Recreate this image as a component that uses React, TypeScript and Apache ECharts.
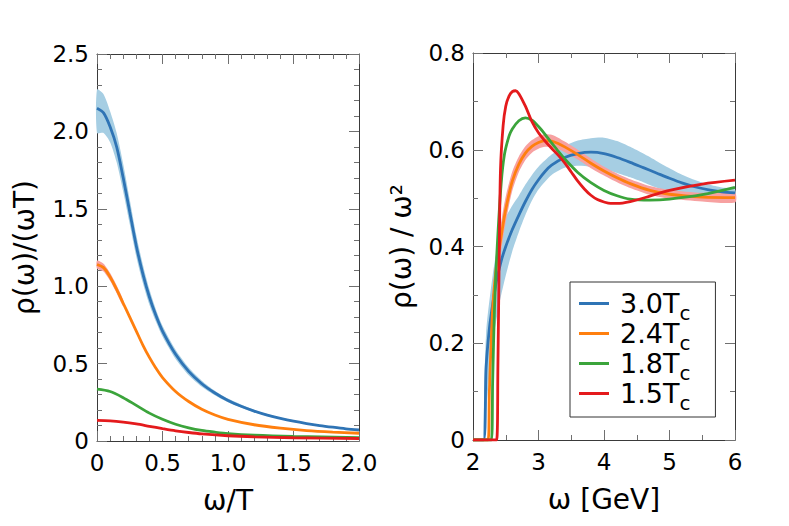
import React, { useEffect, useRef } from "react";
import * as echarts from "echarts";

const FONT = "DejaVu Sans";

const SERIES_NAMES = ["3.0Tc", "2.4Tc", "1.8Tc", "1.5Tc"];
const LEGEND_LABELS = ["3.0T", "2.4T", "1.8T", "1.5T"];
const LINE_COLORS = ["#2f74b5", "#ff7f0e", "#3ba43b", "#e41a1c"];
const BAND_BLUE = "#a6cee3";
const BAND_PINK = "#f7a1a1";

// ---------- left panel: rho(w)/(wT) vs w/T ----------
const left30: [number, number][] = [
  [0, 2.15], [0.05, 2.12], [0.1, 2.03], [0.15, 1.9], [0.2, 1.7], [0.25, 1.48], [0.3, 1.26],
  [0.35, 1.08], [0.4, 0.93], [0.45, 0.81], [0.5, 0.71], [0.6, 0.56], [0.7, 0.45], [0.8, 0.37],
  [0.9, 0.31], [1.0, 0.262], [1.1, 0.224], [1.2, 0.193], [1.3, 0.167], [1.4, 0.146], [1.5, 0.128],
  [1.6, 0.113], [1.7, 0.1], [1.8, 0.089], [1.9, 0.079], [2.0, 0.071],
];
const left24: [number, number][] = [
  [0, 1.14], [0.05, 1.12], [0.1, 1.06], [0.15, 0.98], [0.2, 0.89], [0.25, 0.8], [0.3, 0.71],
  [0.35, 0.62], [0.4, 0.54], [0.45, 0.47], [0.5, 0.41], [0.6, 0.32], [0.7, 0.255], [0.8, 0.205],
  [0.9, 0.168], [1.0, 0.14], [1.2, 0.105], [1.4, 0.083], [1.6, 0.067], [1.8, 0.057], [2.0, 0.05],
];
const left18: [number, number][] = [
  [0, 0.335], [0.1, 0.32], [0.2, 0.28], [0.3, 0.23], [0.4, 0.18], [0.5, 0.14], [0.6, 0.108],
  [0.7, 0.085], [0.8, 0.068], [0.9, 0.057], [1.0, 0.048], [1.2, 0.038], [1.5, 0.03], [2.0, 0.022],
];
const left15: [number, number][] = [
  [0, 0.133], [0.1, 0.13], [0.2, 0.122], [0.3, 0.11], [0.4, 0.095], [0.5, 0.08], [0.6, 0.066],
  [0.7, 0.055], [0.8, 0.046], [1.0, 0.034], [1.2, 0.027], [1.5, 0.021], [2.0, 0.016],
];
const leftBandX30 = [0, 0.05, 0.1, 0.15, 0.2, 0.25, 0.3, 0.35, 0.4, 0.45, 0.5, 0.6, 0.7, 0.8, 0.9, 1.0, 1.2, 1.4, 1.6, 1.8, 2.0];
const leftBandLo30 = [1.99, 1.99, 1.93, 1.8, 1.61, 1.4, 1.19, 1.02, 0.88, 0.77, 0.675, 0.53, 0.425, 0.35, 0.295, 0.25, 0.185, 0.14, 0.109, 0.086, 0.069];
const leftBandHi30 = [2.27, 2.24, 2.13, 1.99, 1.79, 1.56, 1.33, 1.14, 0.98, 0.85, 0.745, 0.59, 0.475, 0.39, 0.325, 0.274, 0.201, 0.152, 0.117, 0.092, 0.073];
const leftBandX24 = [0, 0.05, 0.1, 0.15, 0.2];
const leftBandLo24 = [1.115, 1.095, 1.035, 0.955, 0.87];
const leftBandHi24 = [1.165, 1.145, 1.085, 1.005, 0.91];

// ---------- right panel: rho(w)/w^2 vs w [GeV] ----------
const right30: [number, number][] = [
  [2.0, 0], [2.16, 0], [2.2, 0.15], [2.25, 0.23], [2.3, 0.28], [2.36, 0.33], [2.43, 0.37], [2.5, 0.4],
  [2.6, 0.435], [2.7, 0.465], [2.8, 0.493], [2.9, 0.518], [3.0, 0.538], [3.1, 0.555], [3.2, 0.568],
  [3.4, 0.584], [3.6, 0.592], [3.8, 0.595], [4.0, 0.592], [4.2, 0.584], [4.4, 0.574], [4.6, 0.563],
  [4.8, 0.552], [5.0, 0.541], [5.2, 0.531], [5.4, 0.523], [5.6, 0.517], [5.8, 0.513], [6.0, 0.511],
];
const right24: [number, number][] = [
  [2.0, 0], [2.23, 0], [2.25, 0.1], [2.3, 0.27], [2.35, 0.35], [2.4, 0.395], [2.47, 0.455], [2.52, 0.49],
  [2.6, 0.535], [2.7, 0.57], [2.8, 0.593], [2.9, 0.607], [3.0, 0.615], [3.1, 0.619], [3.2, 0.618],
  [3.3, 0.613], [3.4, 0.606], [3.6, 0.59], [3.8, 0.572], [4.0, 0.556], [4.2, 0.542], [4.4, 0.53],
  [4.7, 0.516], [5.0, 0.508], [5.5, 0.502], [6.0, 0.501],
];
const right18: [number, number][] = [
  [2.0, 0], [2.28, 0], [2.3, 0.12], [2.33, 0.28], [2.37, 0.4], [2.43, 0.53], [2.48, 0.59], [2.55, 0.628],
  [2.6, 0.643], [2.7, 0.66], [2.8, 0.666], [2.9, 0.661], [3.0, 0.648], [3.1, 0.632], [3.2, 0.614],
  [3.3, 0.597], [3.4, 0.581], [3.6, 0.553], [3.8, 0.532], [4.0, 0.516], [4.2, 0.505], [4.4, 0.498],
  [4.7, 0.496], [5.0, 0.498], [5.5, 0.507], [6.0, 0.522],
];
const right15: [number, number][] = [
  [2.0, 0], [2.36, 0], [2.38, 0.15], [2.4, 0.38], [2.42, 0.56], [2.46, 0.65], [2.5, 0.69], [2.55, 0.711],
  [2.6, 0.72], [2.65, 0.722], [2.7, 0.716], [2.8, 0.69], [2.9, 0.658], [3.0, 0.635], [3.1, 0.618],
  [3.2, 0.603], [3.3, 0.589], [3.4, 0.573], [3.5, 0.554], [3.6, 0.535], [3.7, 0.519], [3.8, 0.506],
  [3.9, 0.497], [4.0, 0.492], [4.1, 0.489], [4.2, 0.489], [4.4, 0.493], [4.7, 0.504], [5.0, 0.516],
  [5.5, 0.529], [6.0, 0.537],
];
const rightBandX30 = [2.16, 2.2, 2.3, 2.4, 2.5, 2.6, 2.7, 2.8, 2.9, 3.0, 3.2, 3.4, 3.6, 3.8, 4.0, 4.2, 4.4, 4.6, 4.8, 5.0, 5.2, 5.4, 5.6, 5.8, 6.0];
const rightBandLo30 = [0, 0.06, 0.2, 0.28, 0.34, 0.39, 0.43, 0.465, 0.495, 0.518, 0.548, 0.563, 0.567, 0.565, 0.56, 0.552, 0.543, 0.533, 0.522, 0.513, 0.507, 0.503, 0.502, 0.502, 0.503];
const rightBandHi30 = [0.02, 0.22, 0.34, 0.42, 0.46, 0.485, 0.505, 0.528, 0.548, 0.565, 0.59, 0.608, 0.619, 0.624, 0.625, 0.618, 0.606, 0.592, 0.577, 0.562, 0.548, 0.537, 0.528, 0.522, 0.518];
const rightBandX24 = [2.23, 2.25, 2.3, 2.35, 2.4, 2.47, 2.52, 2.6, 2.7, 2.8, 2.9, 3.0, 3.1, 3.2, 3.3, 3.4, 3.6, 3.8, 4.0, 4.2, 4.4, 4.7, 5.0, 5.5, 6.0];
const rightBandLo24 = [0, 0.08, 0.24, 0.32, 0.365, 0.427, 0.465, 0.515, 0.554, 0.579, 0.594, 0.602, 0.606, 0.605, 0.601, 0.595, 0.58, 0.562, 0.547, 0.533, 0.521, 0.507, 0.499, 0.493, 0.491];
const rightBandHi24 = [0, 0.12, 0.3, 0.38, 0.425, 0.483, 0.515, 0.555, 0.586, 0.607, 0.62, 0.628, 0.632, 0.631, 0.625, 0.617, 0.6, 0.582, 0.565, 0.551, 0.539, 0.525, 0.517, 0.511, 0.511];

const FRAME = "#3a3a3a";
const TICK = "#707070";

const fmtOne = (v: number) => (v === 0 ? "0" : v.toFixed(1));
const fmtInt = (v: number) => String(Math.round(v));

function axisBase(grid: number, min: number, max: number, interval: number, minorSplit: number) {
  return {
    type: "value",
    gridIndex: grid,
    min,
    max,
    interval,
    splitLine: { show: false },
    minorSplitLine: { show: false },
    axisLine: { show: true, onZero: false, lineStyle: { color: FRAME, width: 1 } },
    axisTick: { show: true, inside: true, length: 10, lineStyle: { color: TICK, width: 1 } },
    minorTick: { show: true, splitNumber: minorSplit, length: 5, lineStyle: { color: TICK, width: 1 } },
  };
}

const labelStyle = (fmt: (v: number) => string, margin: number) => ({
  show: true,
  margin,
  fontSize: 23,
  fontFamily: FONT,
  color: "#000",
  formatter: fmt,
});
const nameStyle = { fontSize: 28, fontFamily: FONT, color: "#000" };

function bandSeries(xi: number, yi: number, xs: number[], lo: number[], hi: number[], color: string) {
  return {
    type: "custom",
    xAxisIndex: xi,
    yAxisIndex: yi,
    silent: true,
    z: 1,
    data: xs.map((x, i) => [x, lo[i], hi[i]]),
    encode: { x: 0, y: [1, 2] },
    renderItem: (params: any, api: any) => {
      if (params.dataIndex !== 0) return null;
      const top = xs.map((x, i) => api.coord([x, hi[i]]));
      const bottom = xs.map((x, i) => api.coord([x, lo[i]])).reverse();
      return {
        type: "polygon",
        shape: { points: top.concat(bottom), smooth: 0.25 },
        style: { fill: color, stroke: "none" },
      };
    },
  };
}

function lineSeries(idx: number, data: [number, number][], xi: number, yi: number) {
  return {
    type: "line",
    name: SERIES_NAMES[idx],
    data,
    xAxisIndex: xi,
    yAxisIndex: yi,
    showSymbol: false,
    symbol: "none",
    smooth: 0.3,
    silent: true,
    z: 3 + idx,
    lineStyle: { width: 2.8, color: LINE_COLORS[idx] },
    itemStyle: { color: LINE_COLORS[idx] },
  };
}

const option: any = {
  animation: false,
  backgroundColor: "#fff",
  grid: [
    { left: 97, top: 54, width: 262, height: 387, containLabel: false },
    { left: 473, top: 53, width: 262, height: 387, containLabel: false },
  ],
  xAxis: [
    {
      ...axisBase(0, 0, 2, 0.5, 5),
      position: "bottom",
      axisLabel: labelStyle(fmtOne, 10),
      name: "ω/T",
      nameLocation: "middle",
      nameGap: 45,
      nameTextStyle: nameStyle,
    },
    { ...axisBase(0, 0, 2, 0.5, 5), position: "top", axisLabel: { show: false } },
    {
      ...axisBase(1, 2, 6, 1, 2),
      position: "bottom",
      axisLabel: labelStyle(fmtInt, 10),
      name: "ω [GeV]",
      nameLocation: "middle",
      nameGap: 45,
      nameTextStyle: nameStyle,
    },
    { ...axisBase(1, 2, 6, 1, 2), position: "top", axisLabel: { show: false } },
  ],
  yAxis: [
    {
      ...axisBase(0, 0, 2.5, 0.5, 5),
      position: "left",
      axisLabel: labelStyle(fmtOne, 8),
      name: "ρ(ω)/(ωT)",
      nameLocation: "middle",
      nameGap: 59,
      nameTextStyle: nameStyle,
    },
    { ...axisBase(0, 0, 2.5, 0.5, 5), position: "right", axisLabel: { show: false } },
    {
      ...axisBase(1, 0, 0.8, 0.2, 2),
      position: "left",
      axisLabel: labelStyle(fmtOne, 8),
      name: "ρ(ω) / ω²",
      nameLocation: "middle",
      nameGap: 58,
      nameTextStyle: nameStyle,
    },
    { ...axisBase(1, 0, 0.8, 0.2, 2), position: "right", axisLabel: { show: false } },
  ],
  legend: {
    data: SERIES_NAMES,
    orient: "vertical",
    left: 570,
    top: 282,
    itemWidth: 30,
    itemHeight: 3,
    itemGap: -9,
    icon: "rect",
    padding: [2, 25, 4, 9],
    borderColor: "#333",
    borderWidth: 1,
    borderRadius: 0,
    backgroundColor: "#fff",
    selectedMode: false,
    formatter: (name: string) => `{m|${LEGEND_LABELS[SERIES_NAMES.indexOf(name)]}}{s|c}`,
    textStyle: {
      rich: {
        m: { fontSize: 27, fontFamily: FONT, color: "#000", lineHeight: 30, padding: [0, 0, 0, 6] },
        s: { fontSize: 20, fontFamily: FONT, color: "#000", lineHeight: 20, padding: [19, 0, 0, 0] },
      },
    },
  },
  series: [
    bandSeries(0, 0, leftBandX30, leftBandLo30, leftBandHi30, BAND_BLUE),
    bandSeries(0, 0, leftBandX24, leftBandLo24, leftBandHi24, BAND_PINK),
    lineSeries(0, left30, 0, 0),
    lineSeries(1, left24, 0, 0),
    lineSeries(2, left18, 0, 0),
    lineSeries(3, left15, 0, 0),
    bandSeries(2, 2, rightBandX30, rightBandLo30, rightBandHi30, BAND_BLUE),
    bandSeries(2, 2, rightBandX24, rightBandLo24, rightBandHi24, BAND_PINK),
    lineSeries(0, right30, 2, 2),
    lineSeries(1, right24, 2, 2),
    lineSeries(2, right18, 2, 2),
    lineSeries(3, right15, 2, 2),
  ],
};

export default function App() {
  const ref = useRef<HTMLDivElement>(null);
  useEffect(() => {
    if (!ref.current) return;
    const chart = echarts.init(ref.current, null, { renderer: "svg" });
    chart.setOption(option);
    return () => chart.dispose();
  }, []);
  return (
    <div
      ref={ref}
      style={{ position: "absolute", left: 0, top: 0, width: 789, height: 526, background: "#fff" }}
    />
  );
}
